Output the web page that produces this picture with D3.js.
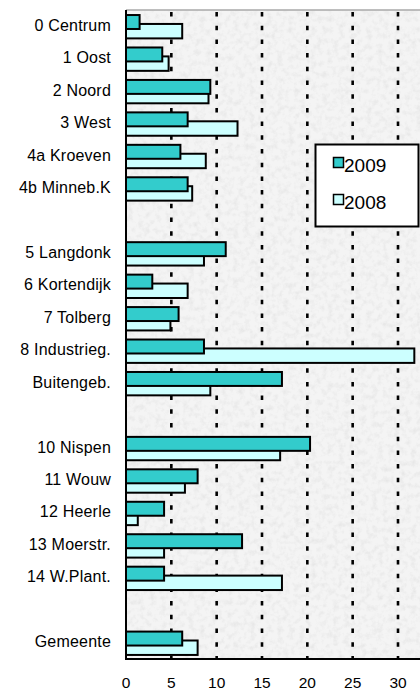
<!DOCTYPE html>
<html>
<head>
<meta charset="utf-8">
<script src="https://cdn.jsdelivr.net/npm/d3@7/dist/d3.min.js"></script>
<style>
  html, body { margin: 0; padding: 0; background: #ffffff; }
  svg { display: block; }
  text { font-family: Arial, "Liberation Sans", sans-serif; fill: #000; }
</style>
</head>
<body>
<svg id="chart" width="420" height="692"></svg>
<script>
const categories = ["0 Centrum", "1 Oost", "2 Noord", "3 West", "4a Kroeven", "4b Minneb.K", "",
  "5 Langdonk", "6 Kortendijk", "7 Tolberg", "8 Industrieg.", "Buitengeb.", "",
  "10 Nispen", "11  Wouw", "12 Heerle", "13 Moerstr.", "14 W.Plant.", "", "Gemeente"];
const values2009 = [1.5, 4.0, 9.3, 6.8, 6.0, 6.8, null, 11.0, 2.9, 5.8, 8.6, 17.2, null,
  20.3, 7.9, 4.2, 12.8, 4.2, null, 6.2];
const values2008 = [6.2, 4.7, 9.1, 12.3, 8.8, 7.3, null, 8.6, 6.8, 4.9, 31.8, 9.3, null,
  17.0, 6.5, 1.3, 4.2, 17.2, null, 7.9];
const seriesNames = ["2009", "2008"];
const tickValues = [0, 5, 10, 15, 20, 25, 30];

(function () {
const svg = d3.select("#chart");
const pLeft = 126, pTop = 10, pBottom = 659;
const x = d3.scaleLinear().domain([0, 30]).range([pLeft, 398]);
const y = d3.scaleBand().domain(d3.range(categories.length)).range([pTop, pBottom]).padding(0);
const step = y.step();

// textured background
const defs = svg.append("defs");
const f = defs.append("filter").attr("id", "marble").attr("x", 0).attr("y", 0).attr("width", 1).attr("height", 1);
f.append("feTurbulence").attr("type", "fractalNoise").attr("baseFrequency", 0.18).attr("numOctaves", 3).attr("seed", 7).attr("result", "n");
f.append("feColorMatrix").attr("in", "n").attr("type", "matrix")
  .attr("values", "0 0 0 0 0.6  0 0 0 0 0.6  0 0 0 0 0.6  0 0 0 -2.2 1.25").attr("result", "c");
f.append("feComposite").attr("in", "c").attr("in2", "SourceGraphic").attr("operator", "in");

svg.append("rect").attr("x", pLeft).attr("y", pTop).attr("width", 420 - pLeft).attr("height", pBottom - pTop)
  .attr("fill", "#f4f4f4");
svg.append("rect").attr("x", pLeft).attr("y", pTop).attr("width", 420 - pLeft).attr("height", pBottom - pTop)
  .attr("fill", "#f4f4f4").attr("filter", "url(#marble)").attr("opacity", 0.3);

// top border
svg.append("line").attr("x1", pLeft).attr("x2", 420).attr("y1", pTop).attr("y2", pTop)
  .attr("stroke", "#a8a8a8").attr("stroke-width", 1.5);

// gridlines
svg.append("g").selectAll("line").data(tickValues.filter(d => d > 0)).join("line")
  .attr("x1", d => x(d)).attr("x2", d => x(d))
  .attr("y1", pTop + 2).attr("y2", pBottom)
  .attr("stroke", "#000").attr("stroke-width", 2.6)
  .attr("stroke-dasharray", "4.5,9.2");

// bars
const rows = categories.map((c, i) => ({ i, c, v09: values2009[i], v08: values2008[i] }));
const bars = svg.append("g");
bars.selectAll("rect.b08").data(rows.filter(d => d.v08 != null)).join("rect")
  .attr("class", "b08")
  .attr("x", x(0)).attr("y", d => y(d.i) + step * 0.43)
  .attr("width", d => x(d.v08) - x(0)).attr("height", step * 0.445)
  .attr("fill", "#CCFFFF").attr("stroke", "#000").attr("stroke-width", 2);
bars.selectAll("rect.b09").data(rows.filter(d => d.v09 != null)).join("rect")
  .attr("class", "b09")
  .attr("x", x(0)).attr("y", d => y(d.i) + step * 0.155)
  .attr("width", d => x(d.v09) - x(0)).attr("height", step * 0.43)
  .attr("fill", "#33CCCC").attr("stroke", "#000").attr("stroke-width", 2);

// axes lines
svg.append("line").attr("x1", pLeft).attr("x2", pLeft).attr("y1", pTop).attr("y2", pBottom + 1)
  .attr("stroke", "#000").attr("stroke-width", 2);
svg.append("line").attr("x1", pLeft).attr("x2", 420).attr("y1", pBottom).attr("y2", pBottom)
  .attr("stroke", "#000").attr("stroke-width", 2);

// category labels
svg.append("g").selectAll("text").data(rows.filter(d => d.c !== "")).join("text")
  .attr("x", 111).attr("y", d => y(d.i) + step / 2 - 1)
  .attr("text-anchor", "end").attr("dominant-baseline", "central")
  .attr("font-size", 16).style("letter-spacing", "0.2px")
  .text(d => d.c);

// x tick labels
svg.append("g").selectAll("text").data(tickValues).join("text")
  .attr("x", d => x(d)).attr("y", 688)
  .attr("text-anchor", "middle").attr("font-size", 15.5)
  .text(d => d);

// legend
const lg = svg.append("g");
lg.append("rect").attr("x", 315.5).attr("y", 144.5).attr("width", 103).attr("height", 82)
  .attr("fill", "#fff").attr("stroke", "#000").attr("stroke-width", 2);
const legendColors = ["#33CCCC", "#CCFFFF"];
seriesNames.forEach((s, k) => {
  const yy = 157.5 + k * 37;
  lg.append("rect").attr("x", 333.5).attr("y", yy).attr("width", 10).attr("height", 10)
    .attr("fill", legendColors[k]).attr("stroke", "#000").attr("stroke-width", 1.5);
  lg.append("text").attr("x", 344).attr("y", yy + 14)
    .attr("font-size", 19).text(s);
});
})();
</script>
</body>
</html>
